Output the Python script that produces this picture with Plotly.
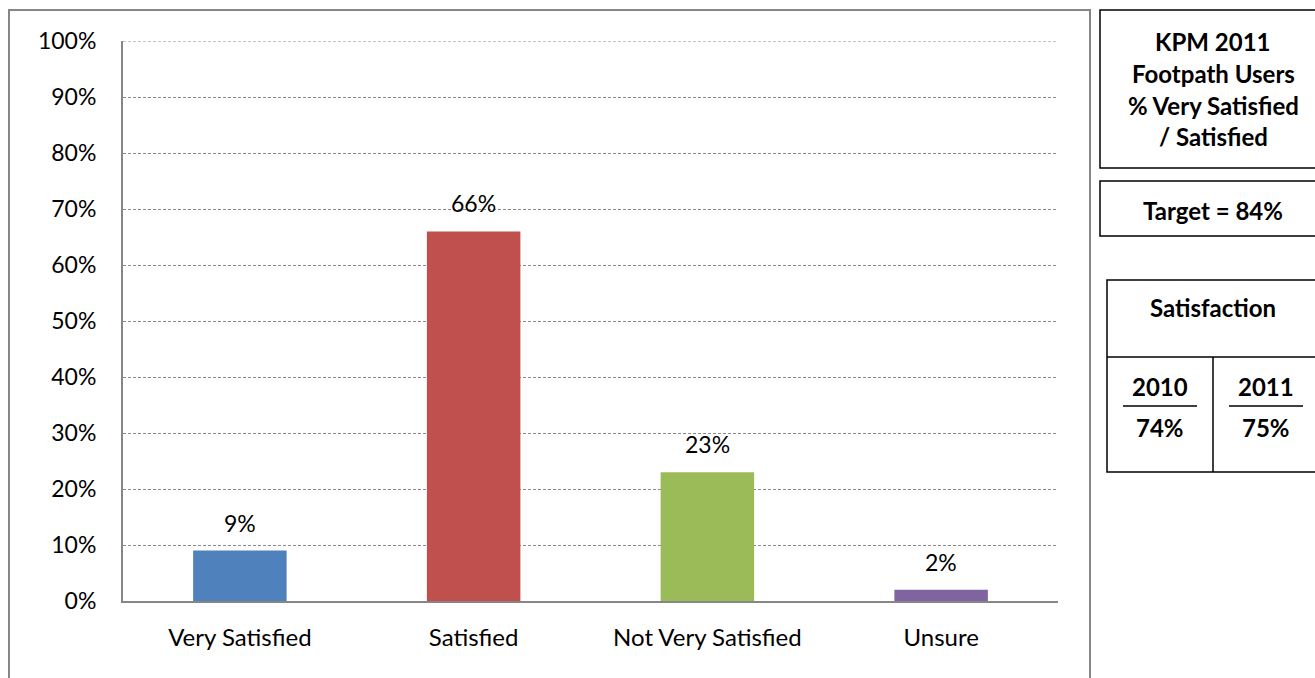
import plotly.graph_objects as go

categories = ["Very Satisfied", "Satisfied", "Not Very Satisfied", "Unsure"]
values = [0.09, 0.66, 0.23, 0.02]
value_labels = ["9%", "66%", "23%", "2%"]
bar_colors = ["#4F81BD", "#C0504D", "#9BBB59", "#8064A2"]

title_lines = ["KPM 2011", "Footpath Users", "% Very Satisfied", "/ Satisfied"]
target_text = "Target = 84%"
table_title = "Satisfaction"
years = ["2010", "2011"]
year_values = ["74%", "75%"]

W, H = 1315, 678
L, R, T, B = 123, 1058, 41, 601

def px(x):
    return (x - L) / (R - L)

def py(y):
    return (B - y) / (B - T)

CAL = "Lato, 'Open Sans', sans-serif"
NUM = "Lato, 'Open Sans', sans-serif"
GRAY = "#868686"

fig = go.Figure()
fig.add_trace(go.Bar(x=categories, y=values, marker=dict(color=bar_colors, line=dict(width=0)),
                     width=0.40, hoverinfo="skip"))

annotations = []
for c, v, t in zip(categories, values, value_labels):
    annotations.append(dict(x=c, y=v, text=t, showarrow=False, yanchor="bottom",
                            yshift=12, font=dict(family=NUM, size=23, color="#000")))

shapes = []
# top gridline at 100%
shapes.append(dict(type="line", xref="paper", yref="y", x0=0, x1=1, y0=1, y1=1,
                   line=dict(color="#8a8a8a", width=1, dash="3px,2px"), layer="below"))
# outer chart frame
shapes.append(dict(type="rect", xref="paper", yref="paper", x0=px(9), x1=px(1090), y0=py(690), y1=py(10),
                   line=dict(color=GRAY, width=2), layer="below"))
# box 1
shapes.append(dict(type="rect", xref="paper", yref="paper", x0=px(1100), x1=px(1318), y0=py(168), y1=py(10),
                   line=dict(color="#000", width=1.5)))
# box 2
shapes.append(dict(type="rect", xref="paper", yref="paper", x0=px(1100), x1=px(1318), y0=py(236), y1=py(181),
                   line=dict(color="#000", width=1.5)))
# box 3
shapes.append(dict(type="rect", xref="paper", yref="paper", x0=px(1107), x1=px(1318), y0=py(472), y1=py(280),
                   line=dict(color="#000", width=1.5)))
shapes.append(dict(type="line", xref="paper", yref="paper", x0=px(1107), x1=px(1318), y0=py(357), y1=py(357),
                   line=dict(color="#000", width=1.5)))
shapes.append(dict(type="line", xref="paper", yref="paper", x0=px(1213), x1=px(1213), y0=py(357), y1=py(472),
                   line=dict(color="#000", width=1.5)))
# underlines
for x0, x1 in [(1123, 1197), (1229, 1303)]:
    shapes.append(dict(type="line", xref="paper", yref="paper", x0=px(x0), x1=px(x1), y0=py(406), y1=py(406),
                       line=dict(color="#000", width=1.5)))

boxfont = dict(family=CAL, size=24, color="#000")
for i, line in enumerate(title_lines):
    annotations.append(dict(xref="paper", yref="paper", x=px(1213), y=py(41 + i * 32), text="<b>%s</b>" % line,
                            showarrow=False, xanchor="center", yanchor="middle", font=boxfont))
annotations.append(dict(xref="paper", yref="paper", x=px(1213), y=py(210), text="<b>%s</b>" % target_text,
                        showarrow=False, xanchor="center", yanchor="middle", font=boxfont))
annotations.append(dict(xref="paper", yref="paper", x=px(1213), y=py(307), text="<b>%s</b>" % table_title,
                        showarrow=False, xanchor="center", yanchor="middle", font=boxfont))
for cx, yr, yv in zip([1160, 1266], years, year_values):
    annotations.append(dict(xref="paper", yref="paper", x=px(cx), y=py(386), text="<b>%s</b>" % yr,
                            showarrow=False, xanchor="center", yanchor="middle", font=boxfont))
    annotations.append(dict(xref="paper", yref="paper", x=px(cx), y=py(427), text="<b>%s</b>" % yv,
                            showarrow=False, xanchor="center", yanchor="middle", font=boxfont))

fig.update_layout(
    width=W, height=H,
    margin=dict(l=L, r=W - R, t=T, b=H - B),
    paper_bgcolor="white", plot_bgcolor="white",
    showlegend=False,
    bargap=0.6,
    annotations=annotations,
    shapes=shapes,
    xaxis=dict(showline=True, linecolor=GRAY, linewidth=2, showgrid=False, ticks="",
               tickfont=dict(family=CAL, size=24, color="#000"), ticklabelstandoff=14,
               fixedrange=True),
    yaxis=dict(range=[0, 1], dtick=0.1, tickformat=".0%", showline=True, linecolor=GRAY, linewidth=2,
               showgrid=True, gridcolor="#8a8a8a", griddash="3px,2px", gridwidth=1, zeroline=False,
               ticks="", tickfont=dict(family=NUM, size=23, color="#000"),
               ticklabelstandoff=20, fixedrange=True),
)

fig.write_html("out.html", config={"displayModeBar": False},
               post_script="document.body.style.margin='0';document.body.style.padding='0';")
